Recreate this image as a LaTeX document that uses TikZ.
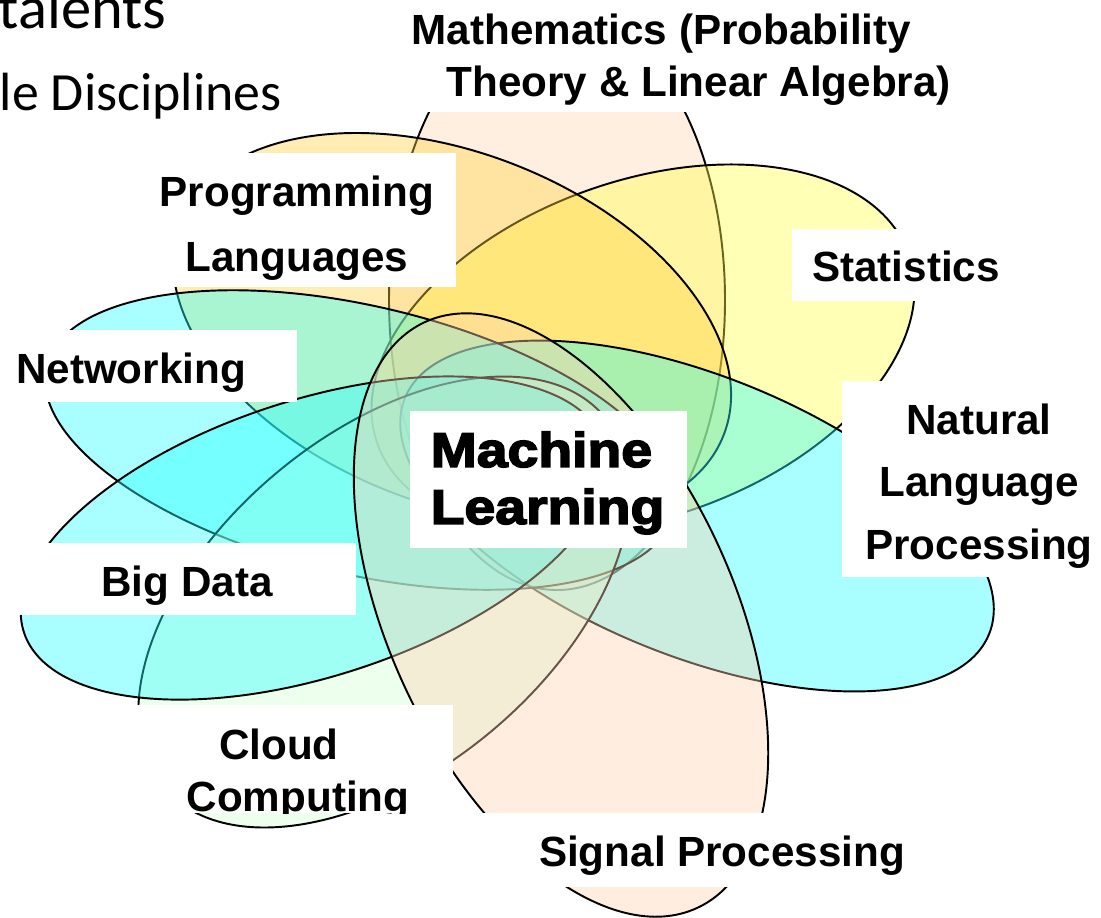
\documentclass[tikz,border=0pt]{standalone}
\usepackage{fontspec}
\setmainfont{Liberation Sans}
\newfontfamily\slidefont{Carlito}
\newfontfamily\mlfont{Liberation Sans}[FakeBold=3.5,FakeStretch=1.14]
\definecolor{mathc}{RGB}{255,215,180}
\definecolor{statc}{RGB}{255,255,72}
\definecolor{plc}{RGB}{255,210,65}
\definecolor{cyanc}{RGB}{42,255,255}
\definecolor{cloudc}{RGB}{212,255,212}
\definecolor{spc}{RGB}{255,212,177}
\begin{document}
\begin{tikzpicture}[x=0.01cm,y=-0.01cm,
  petal/.style={draw=black,line width=0.55pt,fill opacity=0.4},
  labelbox/.style={fill=white},
  lbl/.style={inner sep=0pt,align=center,anchor=north},
  lblfont/.style={font=\bfseries\fontsize{12pt}{#1}\selectfont},
  slide/.style={inner sep=0pt,anchor=base west,font=\slidefont\fontsize{#1}{18pt}\selectfont}]
\useasboundingbox (0,0) rectangle (1101,917);
\fill[white] (0,0) rectangle (1101,917);
% petals
\path[petal,fill=mathc] (557,300) ellipse [x radius=168, y radius=290];
\path[petal,fill=statc,rotate around={19.7:(643,349)}] (643,349) ellipse [x radius=282, y radius=168];
\path[petal,fill=plc,rotate around={-21.6:(452,328)}] (452,328) ellipse [x radius=292, y radius=175];
\path[petal,fill=cyanc,rotate around={-22:(697,516)}] (697,516) ellipse [x radius=315, y radius=140];
\path[petal,fill=cyanc,rotate around={-13.2:(360,440)}] (360,440) ellipse [x radius=322, y radius=134];
\path[petal,fill=cloudc,rotate around={40:(384,602)}] (384,602) ellipse [x radius=288, y radius=168];
\path[petal,fill=cyanc,rotate around={18:(314,538)}] (314,538) ellipse [x radius=305, y radius=138];
\path[petal,fill=spc,rotate around={-65:(561,615)}] (561,615) ellipse [x radius=323, y radius=172];
% label boxes
\fill[labelbox] (395,0) rectangle (968,112);
\fill[labelbox] (150,153) rectangle (456,287);
\fill[labelbox] (792,229) rectangle (1010,301);
\fill[labelbox] (-40,330) rectangle (297,402);
\fill[labelbox] (842,381) rectangle (1116,577);
\fill[labelbox] (410,411) rectangle (687,548);
\fill[labelbox] (18,543) rectangle (356,615);
\fill[labelbox] (133,705) rectangle (453,813);
\fill[labelbox] (460,813) rectangle (984,887);
% slide text
\node[slide=17.2pt] (talents) at (-2,28) {talents};
\node[slide=15.3pt] (disc) at (-1,110) {le Disciplines};
% labels
\node[lbl,lblfont=14.8pt,align=left,anchor=north west] (math) at (411,13)
  {Mathematics (Probability\\\hspace*{0.35cm}Theory \& Linear Algebra)};
\node[lbl,lblfont=18.5pt] (prog) at (297,175) {Programming\\Languages};
\node[lbl,lblfont=14pt] (stat) at (906,250) {Statistics};
\node[lbl,lblfont=14pt] (net) at (131,352) {Networking};
\node[lbl,lblfont=17.8pt] (nlp) at (979,403) {Natural\\Language\\Processing};
\node[lbl,align=left,anchor=north west,font=\mlfont\bfseries\fontsize{13.8pt}{16.2pt}\selectfont] (ml) at (430,431) {Machine\\Learning};
\node[lbl,lblfont=14pt] (big) at (187,565) {Big Data};
\begin{scope}
\clip (133,705) rectangle (453,813);
\node[lbl,lblfont=14.8pt] (cloud) at (298,728) {Cloud\hspace*{0.38cm}\\Computing};
\end{scope}
\node[lbl,lblfont=14pt] (sp) at (722,835) {Signal Processing};
\end{tikzpicture}
\end{document}
